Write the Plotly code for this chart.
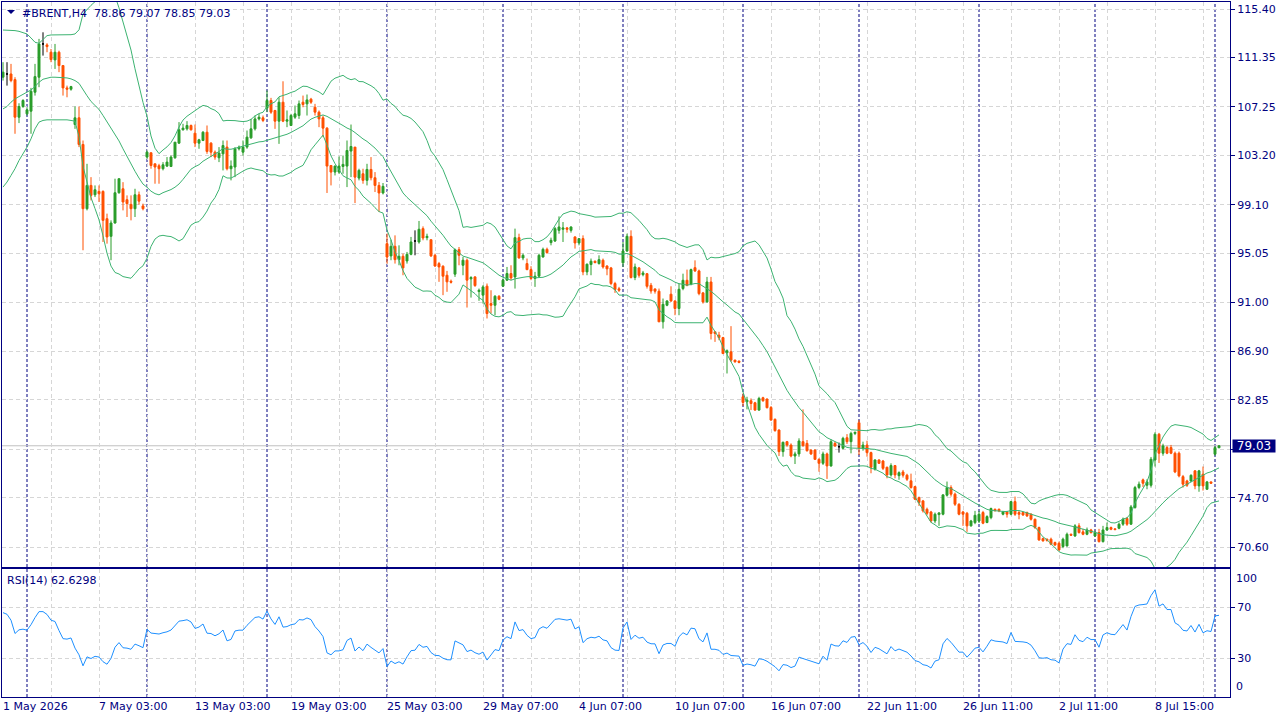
import numpy as np
import pandas as pd
import plotly.graph_objects as go

symbol = "#BRENT"
timeframe = "H4"

opens = [
    109.72, 109.99, 109.99, 109.52, 106.39, 107.28, 106.67, 106.89, 108.47, 109.72,
    112.49, 112.41, 111.80, 111.16, 111.80, 110.69, 108.83, 108.72, 105.78, 106.34,
    104.12, 98.77, 100.71, 99.93, 100.21, 100.21, 97.94, 96.47, 97.58, 100.10,
    100.43, 99.52, 99.13, 98.77, 99.93, 99.00, 103.07, 103.43, 102.51, 102.35,
    102.10, 102.32, 102.29, 103.01, 104.23, 105.34, 105.42, 105.70, 105.06, 104.23,
    104.45, 105.14, 104.23, 103.48, 103.01, 103.34, 103.90, 102.10, 102.24, 103.76,
    103.48, 103.90, 104.67, 105.42, 106.25, 106.34, 107.14, 107.78, 106.95, 106.06,
    107.64, 106.06, 105.70, 106.39, 106.53, 107.64, 107.50, 107.89, 107.22, 106.81,
    106.34, 105.48, 102.37, 101.82, 101.82, 102.29, 102.32, 103.57, 103.90, 101.32,
    101.68, 101.13, 102.04, 101.35, 100.71, 100.08, 95.86, 94.84, 95.64, 94.53,
    94.81, 94.42, 94.97, 96.08, 96.00, 97.11, 96.36, 96.19, 94.89, 94.20,
    93.98, 93.23, 92.73, 93.32, 95.36, 94.06, 94.48, 92.93, 93.09, 91.87,
    91.57, 92.32, 90.87, 90.73, 91.48, 92.32, 92.82, 93.37, 93.09, 96.36,
    94.67, 94.20, 93.70, 92.96, 93.15, 94.75, 95.39, 95.95, 96.08, 96.97,
    97.06, 97.17, 96.97, 96.42, 95.92, 96.28, 93.51, 94.12, 94.40, 94.20,
    94.48, 94.00, 93.84, 92.54, 92.10, 94.26, 95.25, 96.47, 93.04, 93.84,
    93.28, 93.36, 92.39, 92.09, 91.90, 89.35, 90.73, 91.65, 91.09, 90.46,
    92.12, 92.81, 92.48, 93.86, 93.59, 91.76, 91.01, 92.67, 88.52, 88.24,
    88.04, 86.77, 86.85, 86.16, 86.08, 83.11, 82.69, 82.78, 82.61, 82.00,
    83.03, 82.92, 82.22, 81.23, 80.34, 78.54, 79.37, 79.09, 78.18, 78.35,
    79.37, 79.23, 78.67, 78.67, 77.90, 77.57, 78.35, 77.35, 79.23, 78.95,
    78.82, 79.70, 79.37, 80.06, 80.95, 78.82, 79.09, 78.46, 77.07, 77.85,
    77.76, 77.24, 76.60, 77.38, 76.54, 76.85, 76.58, 76.11, 75.63, 74.71,
    74.44, 73.74, 73.52, 72.77, 73.30, 73.33, 74.91, 75.55, 75.00, 74.16,
    73.52, 73.41, 72.36, 72.63, 72.77, 73.47, 72.64, 73.05, 73.74, 73.74,
    73.33, 73.52, 73.33, 74.38, 73.47, 73.47, 73.47, 73.33, 72.91, 72.22,
    71.30, 71.25, 71.25, 70.97, 70.91, 70.64, 70.69, 71.66, 71.52, 72.36,
    71.86, 71.66, 72.02, 71.52, 71.80, 71.05, 72.02, 72.22, 72.11, 72.16,
    72.50, 72.97, 72.50, 73.88, 75.55, 76.19, 75.74, 75.74, 77.85, 79.99,
    78.41, 78.88, 78.88, 78.41, 78.41, 76.46, 76.10, 76.10, 76.94, 75.69,
    76.66, 75.41, 76.02, 78.33, 78.86,
]
highs = [
    110.97, 110.97, 110.83, 109.72, 107.55, 107.89, 107.22, 108.83, 110.83, 112.91,
    113.46, 112.55, 112.07, 112.49, 111.93, 110.69, 109.02, 109.00, 107.28, 107.28,
    104.45, 102.51, 101.40, 100.71, 100.71, 100.30, 98.36, 97.80, 101.27, 101.27,
    100.98, 99.88, 99.88, 100.43, 100.20, 99.19, 103.62, 103.43, 102.51, 102.51,
    102.65, 103.07, 103.20, 104.31, 105.98, 105.84, 106.06, 105.78, 105.78, 104.59,
    105.23, 105.70, 104.31, 103.62, 103.90, 104.45, 104.45, 102.79, 103.90, 104.03,
    104.45, 105.28, 106.25, 106.53, 106.67, 106.53, 108.61, 108.00, 107.00, 108.05,
    109.38, 106.95, 106.67, 107.36, 107.78, 108.19, 108.28, 108.00, 107.50, 106.95,
    106.53, 105.56, 102.37, 102.37, 103.12, 103.20, 104.45, 105.78, 103.90, 102.10,
    102.10, 102.51, 103.07, 101.82, 100.99, 100.91, 96.69, 96.19, 96.55, 95.72,
    95.03, 95.17, 96.42, 96.97, 97.75, 97.30, 96.69, 96.19, 95.03, 94.34,
    94.06, 93.59, 92.87, 95.45, 95.58, 94.75, 94.62, 93.15, 93.15, 92.12,
    92.40, 92.54, 91.98, 91.57, 91.57, 92.96, 93.92, 94.06, 97.11, 96.69,
    95.03, 94.62, 93.98, 93.51, 95.03, 95.53, 95.53, 96.36, 97.25, 98.13,
    97.66, 97.25, 97.30, 96.47, 96.28, 96.55, 94.20, 94.62, 94.45, 94.89,
    94.62, 94.06, 93.92, 92.68, 92.26, 96.00, 96.69, 96.97, 94.20, 93.92,
    93.59, 93.42, 92.59, 92.12, 92.12, 91.29, 91.15, 92.31, 91.15, 92.53,
    93.36, 93.70, 93.78, 94.47, 93.70, 91.84, 93.09, 93.09, 88.52, 88.52,
    88.10, 87.05, 88.99, 86.20, 86.12, 83.39, 83.11, 82.97, 82.69, 83.11,
    83.11, 82.97, 82.34, 81.31, 80.40, 79.37, 79.43, 79.23, 78.54, 79.65,
    82.06, 79.51, 78.73, 78.73, 77.99, 78.54, 78.46, 79.57, 79.37, 79.29,
    79.78, 80.00, 80.20, 80.20, 81.17, 79.37, 79.45, 78.54, 77.90, 77.90,
    77.85, 77.29, 77.57, 77.43, 76.90, 77.02, 76.70, 76.71, 75.69, 74.80,
    74.52, 73.88, 73.61, 73.47, 73.50, 75.00, 76.05, 75.74, 75.13, 74.24,
    73.61, 73.52, 72.86, 73.61, 73.60, 73.61, 73.24, 73.88, 73.80, 73.80,
    73.61, 73.61, 74.44, 74.80, 73.61, 73.55, 73.55, 73.41, 72.97, 72.30,
    71.38, 71.30, 71.38, 71.05, 71.05, 71.38, 71.80, 71.72, 72.50, 72.58,
    72.11, 72.22, 72.11, 71.97, 72.11, 72.36, 72.64, 72.30, 72.16, 72.64,
    73.05, 73.10, 74.10, 75.69, 76.05, 76.30, 76.24, 78.10, 80.15, 80.10,
    79.20, 79.02, 79.10, 78.55, 78.55, 76.60, 76.20, 76.65, 77.00, 77.02,
    77.30, 76.10, 76.05, 79.00, 79.07,
]
lows = [
    109.44, 109.02, 109.30, 105.01, 105.90, 107.17, 106.53, 105.01, 108.19, 108.89,
    111.52, 111.80, 110.97, 110.41, 110.14, 108.19, 108.05, 108.60, 105.42, 103.90,
    95.31, 98.63, 99.46, 99.74, 99.33, 96.00, 95.86, 94.48, 97.53, 100.02,
    98.63, 98.08, 97.80, 98.08, 99.10, 98.63, 102.93, 102.10, 100.85, 100.85,
    101.96, 102.24, 102.24, 102.93, 104.17, 105.28, 105.28, 105.28, 103.90, 103.76,
    104.40, 103.34, 103.07, 102.85, 102.65, 101.96, 101.96, 101.13, 101.40, 103.62,
    103.20, 103.76, 104.59, 105.28, 106.12, 105.98, 106.81, 106.67, 105.42, 104.17,
    105.98, 105.56, 105.70, 106.25, 106.25, 107.22, 106.53, 107.50, 106.53, 105.56,
    104.73, 100.08, 100.71, 101.54, 101.68, 101.68, 100.57, 101.40, 99.24, 101.13,
    100.85, 100.71, 101.13, 100.16, 98.50, 99.96, 94.20, 94.48, 94.20, 94.06,
    93.23, 94.20, 94.89, 94.89, 95.86, 96.14, 96.14, 94.75, 93.92, 92.68,
    91.57, 91.85, 92.54, 93.09, 94.06, 93.23, 90.54, 91.37, 92.26, 91.10,
    90.87, 89.63, 90.04, 89.90, 91.15, 92.26, 92.76, 92.82, 92.12, 94.62,
    94.48, 93.65, 92.82, 92.26, 93.04, 94.70, 95.03, 95.72, 96.00, 96.69,
    96.00, 96.78, 96.78, 95.45, 95.72, 93.23, 93.23, 93.23, 94.23, 94.12,
    93.78, 93.23, 92.40, 91.76, 91.84, 93.92, 95.17, 92.96, 92.82, 93.03,
    93.14, 92.12, 91.70, 91.70, 89.35, 88.79, 90.65, 91.01, 89.90, 89.90,
    91.98, 92.31, 92.39, 93.50, 91.56, 90.87, 90.93, 87.88, 87.68, 87.82,
    86.66, 85.05, 86.02, 85.95, 85.90, 82.34, 82.06, 82.00, 81.95, 81.95,
    82.69, 82.14, 81.12, 80.20, 78.18, 78.12, 78.95, 78.07, 77.51, 78.12,
    78.95, 78.54, 78.26, 77.85, 76.87, 77.43, 76.27, 77.29, 78.95, 78.46,
    78.73, 79.18, 78.40, 79.92, 78.26, 78.62, 78.12, 76.74, 76.96, 77.51,
    77.01, 76.32, 76.46, 76.32, 76.20, 76.38, 76.10, 75.46, 74.52, 74.02,
    73.47, 73.24, 72.63, 72.58, 72.36, 73.24, 74.80, 74.80, 74.02, 73.24,
    72.36, 71.86, 72.30, 72.50, 72.60, 72.50, 72.58, 72.91, 73.55, 73.50,
    73.24, 73.05, 73.24, 73.19, 72.91, 73.19, 73.10, 72.80, 72.11, 71.11,
    71.05, 71.05, 70.75, 70.69, 70.28, 70.50, 70.64, 71.52, 71.44, 71.72,
    71.58, 71.58, 71.72, 71.44, 70.97, 70.97, 71.94, 72.00, 72.00, 72.08,
    72.36, 72.36, 72.44, 73.80, 75.41, 75.60, 75.41, 75.55, 77.30, 77.60,
    78.20, 78.33, 78.33, 76.75, 76.40, 75.55, 75.60, 76.00, 75.41, 75.20,
    75.30, 75.35, 75.85, 78.20, 78.85,
]
closes = [
    110.14, 109.99, 109.44, 106.39, 107.28, 107.78, 107.00, 108.55, 109.77, 112.49,
    112.49, 112.27, 111.19, 111.80, 110.69, 108.83, 108.72, 108.94, 106.34, 104.12,
    98.77, 100.71, 99.88, 100.35, 100.02, 97.80, 96.42, 97.58, 100.10, 101.27,
    99.33, 99.19, 98.77, 99.93, 99.40, 98.77, 103.48, 102.37, 102.24, 102.10,
    102.43, 102.65, 103.07, 104.31, 105.34, 105.48, 105.70, 105.34, 104.23, 104.51,
    105.14, 103.54, 103.48, 103.07, 103.40, 104.03, 102.10, 102.32, 103.76, 103.90,
    103.90, 104.73, 105.42, 106.25, 106.39, 106.12, 107.78, 106.81, 106.06, 107.64,
    106.06, 106.17, 106.53, 106.67, 107.50, 107.45, 107.83, 107.64, 106.81, 106.25,
    105.48, 102.32, 101.82, 102.32, 102.32, 102.46, 103.62, 103.95, 101.40, 101.96,
    101.13, 102.04, 101.35, 100.71, 100.08, 100.63, 94.75, 95.64, 94.53, 94.81,
    93.84, 94.97, 96.00, 96.08, 97.06, 96.33, 96.47, 94.84, 94.00, 93.92,
    93.15, 92.68, 92.65, 95.36, 94.89, 94.48, 92.82, 93.04, 92.37, 91.98,
    92.26, 90.04, 90.73, 91.48, 91.23, 92.82, 93.37, 93.01, 96.36, 94.67,
    94.89, 93.70, 92.96, 93.15, 94.89, 95.39, 95.11, 96.14, 97.11, 97.25,
    97.17, 97.06, 97.25, 95.92, 96.28, 93.51, 94.15, 94.40, 94.28, 94.53,
    93.92, 93.76, 92.54, 92.04, 91.98, 95.25, 96.47, 93.04, 93.92, 93.23,
    93.42, 92.31, 91.92, 91.90, 89.35, 90.81, 91.09, 91.09, 90.46, 92.06,
    92.81, 92.39, 93.70, 93.59, 91.70, 91.01, 92.67, 88.38, 88.38, 88.04,
    86.71, 86.94, 86.16, 86.02, 85.97, 82.64, 82.83, 82.55, 82.00, 82.97,
    82.78, 82.20, 81.17, 80.29, 78.54, 79.32, 79.09, 78.18, 78.35, 79.43,
    79.04, 78.62, 78.35, 77.90, 77.57, 78.35, 77.35, 79.37, 79.01, 78.95,
    79.65, 79.37, 80.06, 80.15, 78.82, 79.09, 78.46, 77.24, 77.85, 77.57,
    77.15, 76.60, 77.38, 76.60, 76.79, 76.58, 76.24, 75.55, 74.58, 74.30,
    73.61, 73.41, 72.77, 73.33, 73.44, 74.94, 75.55, 75.00, 74.16, 73.33,
    73.33, 72.36, 72.77, 73.24, 73.33, 72.58, 73.13, 73.80, 73.63, 73.61,
    73.52, 73.33, 74.38, 73.33, 73.33, 73.27, 73.19, 72.91, 72.22, 71.19,
    71.11, 71.15, 70.83, 70.77, 70.36, 71.25, 71.66, 71.58, 72.36, 71.80,
    71.66, 72.02, 71.80, 71.80, 71.05, 72.02, 72.22, 72.08, 72.05, 72.50,
    72.91, 72.50, 73.94, 75.55, 75.83, 75.91, 76.02, 77.91, 79.99, 78.41,
    79.02, 78.41, 78.41, 76.85, 76.52, 75.83, 75.74, 76.57, 75.69, 76.94,
    75.69, 76.02, 75.91, 78.88, 79.03,
]

# Indicator values before a full window exists (bars 0..18 / 0..13)
bb_upper_head = [113.65, 113.65, 113.62, 113.60, 113.54, 113.46, 113.32, 112.99, 112.63, 112.54,
                 112.82, 113.18, 113.24, 113.24, 113.21, 113.21, 113.21, 113.26, 113.32]
bb_middle_head = [107.08, 107.28, 107.64, 107.92, 108.11, 108.28, 108.47, 108.66, 108.94, 109.30,
                  109.55, 109.66, 109.72, 109.72, 109.72, 109.69, 109.66, 109.58, 109.44]
bb_lower_head = [100.57, 100.99, 101.54, 102.10, 102.79, 103.29, 103.90, 104.59, 105.42, 105.98,
                 106.12, 106.17, 106.17, 106.17, 106.20, 106.17, 106.17, 106.12, 106.06]
rsi_head = [65.9, 64.6, 60.0, 49.6, 52.5, 53.0, 52.2, 56.5, 62.0, 66.7, 66.7, 64.5, 60.0, 59.0]

bb_period = 20
bb_dev = 2.0
rsi_period = 14

time_labels = ["1 May 2026", "7 May 03:00", "13 May 03:00", "19 May 03:00", "25 May 03:00",
               "29 May 07:00", "4 Jun 07:00", "10 Jun 07:00", "16 Jun 07:00", "22 Jun 11:00",
               "26 Jun 11:00", "2 Jul 11:00", "8 Jul 15:00"]
label_step = 24
grid_step = 12
week_starts = [6, 36, 66, 96, 125, 155, 185, 214, 244, 273, 303]
price_ticks = [70.60, 74.70, 78.75, 82.85, 86.90, 91.00, 95.05, 99.10, 103.20, 107.25, 111.35, 115.40]
rsi_levels = [30, 70]
rsi_caption = "RSI(14) 62.6298"

# ---------------- indicators ----------------
n = len(closes)
xs = np.arange(n)
cs = pd.Series(closes, dtype=float)
mid = cs.rolling(bb_period).mean()
sd = cs.rolling(bb_period).std(ddof=0)
upper = (mid + bb_dev * sd).to_numpy()
lower = (mid - bb_dev * sd).to_numpy()
mid = mid.to_numpy()
hlen = len(bb_middle_head)
upper[:hlen] = bb_upper_head
mid[:hlen] = bb_middle_head
lower[:hlen] = bb_lower_head

diff = cs.diff().to_numpy()
gain = np.where(diff > 0, diff, 0.0)
loss = np.where(diff < 0, -diff, 0.0)
rsi = np.full(n, np.nan)
rsi[:len(rsi_head)] = rsi_head
ag = gain[1:rsi_period + 1].mean()
al = loss[1:rsi_period + 1].mean()
rsi[rsi_period] = 100 * ag / (ag + al)
for i in range(rsi_period + 1, n):
    ag = (ag * (rsi_period - 1) + gain[i]) / rsi_period
    al = (al * (rsi_period - 1) + loss[i]) / rsi_period
    rsi[i] = 100 * ag / (ag + al) if (ag + al) > 0 else 50

# ---------------- styling ----------------
NAVY = "#000080"
GRID = "#D6D6D6"
BULL = "#2A9D2A"
BEAR = "#FF5000"
BAND = "#3CB371"
RSIC = "#1E90FF"
FONT = "DejaVu Sans"

W, H = 1280, 720
ML, MR, MT, MB = 2, 50, 2, 23
main_bottom_px, rsi_top_px = 567, 569
plot_h = H - MT - MB
plot_w = W - ML - MR
bar_px = 4.0
main_dom = [(H - MB - main_bottom_px) / plot_h, 1.0]
rsi_dom = [0.0, (H - MB - rsi_top_px) / plot_h]

o = np.array(opens); hi = np.array(highs); lo = np.array(lows); c = np.array(closes)
doji = o == c
nd = ~doji

fig = go.Figure()
fig.add_trace(go.Candlestick(
    x=xs[nd], open=o[nd], high=hi[nd], low=lo[nd], close=c[nd],
    increasing=dict(line=dict(color=BULL, width=1), fillcolor=BULL),
    decreasing=dict(line=dict(color=BEAR, width=1), fillcolor=BEAR),
    whiskerwidth=0, showlegend=False, hoverinfo="skip", xaxis="x", yaxis="y"))
fig.add_trace(go.Candlestick(
    x=xs[doji], open=o[doji], high=hi[doji], low=lo[doji], close=c[doji],
    increasing=dict(line=dict(color="black", width=1), fillcolor="black"),
    decreasing=dict(line=dict(color="black", width=1), fillcolor="black"),
    whiskerwidth=0, showlegend=False, hoverinfo="skip", xaxis="x", yaxis="y"))
for band in (upper, mid, lower):
    fig.add_trace(go.Scatter(x=xs, y=band, mode="lines", line=dict(color=BAND, width=1),
                             showlegend=False, hoverinfo="skip", xaxis="x", yaxis="y"))
fig.add_trace(go.Scatter(x=xs, y=rsi, mode="lines", line=dict(color=RSIC, width=1),
                         showlegend=False, hoverinfo="skip", xaxis="x2", yaxis="y2"))

xrange = [-0.25, -0.25 + plot_w / bar_px]
grid_vals = list(range(0, n, grid_step))
axis_common = dict(showline=True, mirror=True, linecolor=NAVY, linewidth=1, zeroline=False)
xcommon = dict(range=xrange, tickvals=grid_vals, showticklabels=False, ticks="",
               showgrid=True, gridcolor=GRID, griddash="4px,3px", gridwidth=1, **axis_common)

fig.update_layout(
    width=W, height=H, margin=dict(l=ML, r=MR, t=MT, b=MB),
    paper_bgcolor="white", plot_bgcolor="white",
    font=dict(family=FONT, size=11, color=NAVY),
    xaxis=dict(domain=[0, 1], anchor="y", rangeslider=dict(visible=False), **xcommon),
    xaxis2=dict(domain=[0, 1], anchor="y2", matches="x", **xcommon),
    yaxis=dict(domain=main_dom, anchor="x", side="right",
               range=[115.40 - (main_bottom_px - 9) / 12.009, 115.40 + (9 - MT) / 12.009],
               tickvals=price_ticks,
               ticktext=["" if abs(v - closes[-1]) < 1.0 else f"{v:.2f}" for v in price_ticks],
               ticks="outside", ticklen=4, tickcolor=NAVY,
               showgrid=True, gridcolor=GRID, griddash="4px,3px", gridwidth=1,
               tickfont=dict(family=FONT, size=11, color=NAVY), **axis_common),
    yaxis2=dict(domain=rsi_dom, anchor="x2", side="right", range=[0, 100],
                tickvals=rsi_levels, ticktext=[str(v) for v in rsi_levels],
                ticks="outside", ticklen=4, tickcolor=NAVY,
                showgrid=True, gridcolor=GRID, griddash="4px,3px", gridwidth=1,
                tickfont=dict(family=FONT, size=11, color=NAVY), **axis_common),
    showlegend=False,
)

shapes = []
for w in week_starts:
    shapes.append(dict(type="line", xref="x", yref="paper", x0=w, x1=w, y0=0, y1=1,
                       line=dict(color=NAVY, width=1, dash="3px,2px"), layer="below"))
shapes.append(dict(type="line", xref="paper", yref="y", x0=0, x1=1, y0=closes[-1], y1=closes[-1],
                   line=dict(color="#C0C0C0", width=1), layer="below"))
shapes.append(dict(type="path", xref="paper", yref="paper", xsizemode="pixel", ysizemode="pixel",
                   xanchor=0, yanchor=1, path="M5,-8 L13,-8 L9,-12 Z",
                   fillcolor=NAVY, line=dict(color=NAVY, width=0)))
fig.update_layout(shapes=shapes)

ann = []
title = f"{symbol},{timeframe}\u00a0\u00a0{opens[-1]:.2f} {highs[-1]:.2f} {lows[-1]:.2f} {closes[-1]:.2f}"
ann.append(dict(text=title, xref="paper", yref="paper", x=0, y=1, xanchor="left", yanchor="top",
                xshift=18, yshift=-3, showarrow=False, font=dict(family=FONT, size=11, color=NAVY)))
ann.append(dict(text=rsi_caption, xref="paper", yref="y2 domain", x=0, y=1, xanchor="left",
                yanchor="top", xshift=3, yshift=-3, showarrow=False,
                font=dict(family=FONT, size=11, color=NAVY)))
ann.append(dict(text=f"{closes[-1]:.2f}", xref="paper", yref="y", x=1, y=closes[-1],
                xanchor="left", yanchor="middle", xshift=2, showarrow=False,
                bgcolor=NAVY, font=dict(family=FONT, size=12, color="white"),
                width=42, height=12, borderpad=0))
ann.append(dict(text="100", xref="paper", yref="y2", x=1, y=100, xanchor="left", yanchor="top",
                xshift=4, yshift=-1, showarrow=False, font=dict(family=FONT, size=11, color=NAVY)))
ann.append(dict(text="0", xref="paper", yref="y2", x=1, y=0, xanchor="left", yanchor="bottom",
                xshift=4, yshift=2, showarrow=False, font=dict(family=FONT, size=11, color=NAVY)))
for k, lab in enumerate(time_labels):
    ann.append(dict(text=lab, xref="x2", yref="paper", x=k * label_step, y=0,
                    xanchor="left", yanchor="top", xshift=-2, yshift=-1, showarrow=False,
                    font=dict(family=FONT, size=11, color=NAVY)))
fig.update_layout(annotations=ann)

fig.write_html("out.html")
